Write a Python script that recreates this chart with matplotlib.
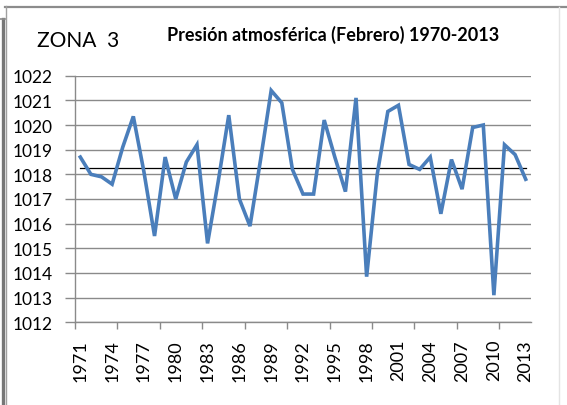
import matplotlib
matplotlib.use("Agg")
import matplotlib.pyplot as plt
from matplotlib.lines import Line2D
from matplotlib.ticker import FixedLocator

# Presion media de febrero, zona 3 (hPa)
years = list(range(1971, 2014))
pressure = [1018.7, 1018.0, 1017.9, 1017.6, 1019.1, 1020.35, 1018.1, 1015.5,
            1018.7, 1017.0, 1018.5, 1019.2, 1015.2, 1017.7, 1020.4, 1017.0,
            1015.9, 1018.6, 1021.4, 1020.9, 1018.2, 1017.2, 1017.2, 1020.2,
            1018.7, 1017.3, 1021.1, 1013.85, 1018.0, 1020.55, 1020.8, 1018.4,
            1018.2, 1018.7, 1016.4, 1018.6, 1017.4, 1019.9, 1020.0, 1013.1,
            1019.2, 1018.8, 1017.8]
mean_pressure = 1018.25
yticks = list(range(1012, 1023))
label_years = list(range(1971, 2014, 3))

W, H = 567, 406
fig = plt.figure(figsize=(W / 100, H / 100), dpi=100)
fig.patch.set_facecolor("white")

ax = fig.add_axes([75 / W, 1 - 323.3 / H, (531 - 75) / W, (323.3 - 76.7) / H])

x = list(range(len(years)))
ax.plot(x, pressure, color="#4A7EBB", lw=2.6, solid_joinstyle="miter", zorder=3)
ax.plot([x[0], x[-1]], [mean_pressure, mean_pressure], color="black", lw=0.9, zorder=2)

ax.set_xlim(-0.5, len(years) - 0.5)
ax.set_ylim(1012, 1022)
ax.set_yticks(yticks)
ax.set_yticklabels([str(v) for v in yticks], fontsize=12.5, family="Lato")
ax.yaxis.grid(True, color="#8a8a8a", lw=1.0)
ax.set_axisbelow(True)

ax.set_xticks([years.index(y) for y in label_years])
ax.set_xticklabels([str(y) for y in label_years], rotation=90, fontsize=13, family="Lato")
ax.xaxis.set_minor_locator(FixedLocator([k - 0.5 for k in range(0, len(years), 4)]))
ax.tick_params(axis="x", which="major", length=0, pad=12)
ax.tick_params(axis="x", which="minor", length=5, color="#8a8a8a", width=1)
ax.tick_params(axis="y", length=7, color="#8a8a8a", width=1, pad=9)

for s in ["top", "right"]:
    ax.spines[s].set_visible(False)
for s in ["left", "bottom"]:
    ax.spines[s].set_color("#8a8a8a")
    ax.spines[s].set_linewidth(1.0)

fig.text(37 / W, 1 - 41 / H, "ZONA  3", fontsize=15, family="Lato", va="center", ha="left")
fig.text(167 / W, 1 - 35 / H, "Presión atmosférica (Febrero) 1970-2013", fontsize=13,
         family="Lato", weight="bold", va="center", ha="left")

# marco del grafico
def px_line(xs, ys, **kw):
    fig.add_artist(Line2D([v / W for v in xs], [1 - v / H for v in ys],
                          transform=fig.transFigure, **kw))

px_line([5, 567], [7.5, 7.5], color="#8c8c8c", lw=1.6)
px_line([5.5, 5.5], [7, 406], color="#a0a0a0", lw=1.0)
px_line([2.5, 2.5], [20, 406], color="#777777", lw=2.4)
px_line([0, 5], [20, 20], color="#8c8c8c", lw=1.2)
px_line([559, 559], [8, 406], color="#e4e4e4", lw=1.0)

fig.savefig("out.png", dpi=100, facecolor="white")
